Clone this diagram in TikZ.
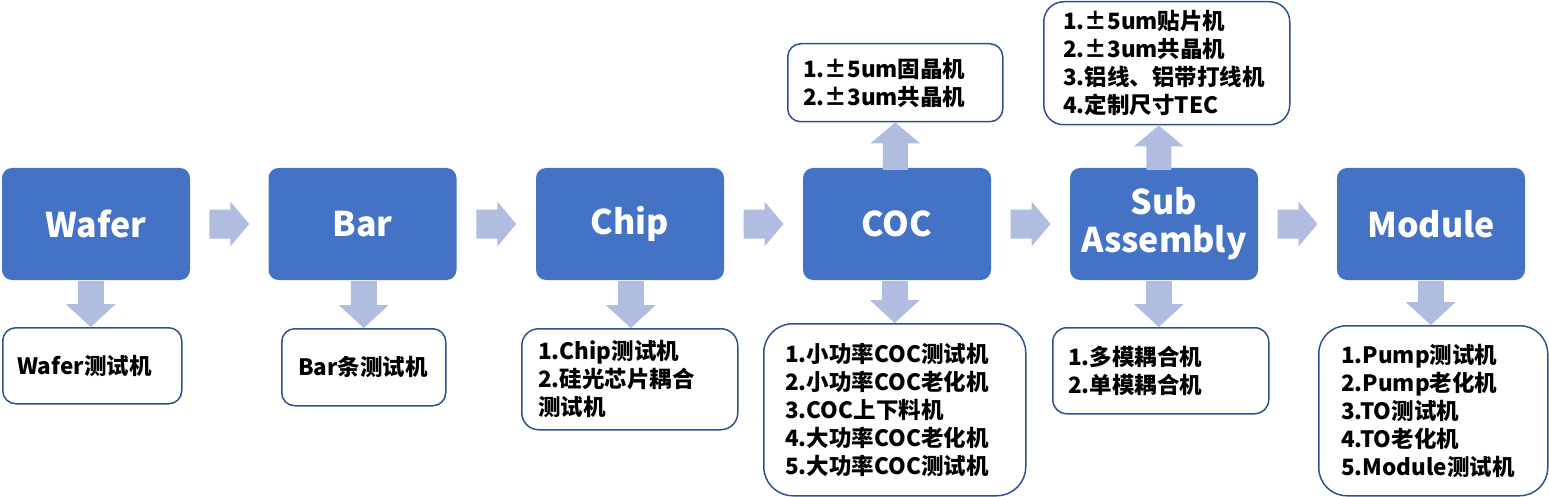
\documentclass[tikz,border=0pt]{standalone}
\usepackage{fontspec}
\setmainfont{Noto Sans CJK SC}
\usetikzlibrary{calc}
\definecolor{boxblue}{HTML}{4472C4}
\definecolor{arrfill}{HTML}{B0BCE0}
\definecolor{edgeblue}{HTML}{2F528F}
\tikzset{
  stage/.style={fill=boxblue, rounded corners=10pt, minimum width=188pt, minimum height=112pt,
    text=white, font=\fontsize{34}{38}\selectfont\bfseries, align=center, inner sep=0pt},
  info/.style={draw=edgeblue, line width=1.5pt, fill=white, anchor=north west, inner sep=0pt},
  infotext/.style={anchor=west, align=left, inner sep=0pt, font=\fontsize{22.5}{28}\selectfont\bfseries},
  arr/.style={fill=arrfill},
}
\newcommand\harr[2]{\fill[arr] let \p1=(#1.east),\p2=(#2.west) in
  (\x1/2+\x2/2-20pt,\y1+14.5pt) -- (\x1/2+\x2/2+1pt,\y1+14.5pt) -- (\x1/2+\x2/2+1pt,\y1+22.5pt) --
  (\x1/2+\x2/2+20pt,\y1) -- (\x1/2+\x2/2+1pt,\y1-22.5pt) -- (\x1/2+\x2/2+1pt,\y1-14.5pt) --
  (\x1/2+\x2/2-20pt,\y1-14.5pt) -- cycle;}
\newcommand\varr[3]{\fill[arr] let \p1=(#1.south),\p2=(#2.north) in
  (\x2+#3-13pt,\y1-1pt) -- (\x2+#3-13pt,\y2+23pt) -- (\x2+#3-25pt,\y2+23pt) -- (\x2+#3,\y2) --
  (\x2+#3+25pt,\y2+23pt) -- (\x2+#3+13pt,\y2+23pt) -- (\x2+#3+13pt,\y1-1pt) -- cycle;}
\newcommand\uarr[3]{\fill[arr] let \p1=(#1.north),\p2=(#2.south) in
  (\x2+#3-12.5pt,\y1-2pt) -- (\x2+#3-12.5pt,\y2-21pt) -- (\x2+#3-25pt,\y2-21pt) -- (\x2+#3,\y2) --
  (\x2+#3+25pt,\y2-21pt) -- (\x2+#3+12.5pt,\y2-21pt) -- (\x2+#3+12.5pt,\y1-2pt) -- cycle;}
\begin{document}
\begin{tikzpicture}[x=1pt,y=-1pt]
\useasboundingbox (0,0) rectangle (1549,497);
% stages
\node[stage] (wafer) at (96,224) {Wafer};
\node[stage] (bar) at (362.5,224) {Bar};
\node[stage] (chip) at (630,224) {Chip};
\node[stage] (coc) at (897,224) {COC};
\node[stage] (sub) at (1164,224) {Sub\\Assembly};
\node[stage] (module) at (1431,224) {Module};
% info boxes
\node[info, minimum width=179pt, minimum height=76pt, rounded corners=13pt] (waferD) at (2,327) {};
\node[info, minimum width=164pt, minimum height=77pt, rounded corners=13pt] (barD) at (281,328) {};
\node[info, minimum width=216pt, minimum height=101pt, rounded corners=17pt] (chipD) at (521,328) {};
\node[info, minimum width=215pt, minimum height=78pt, rounded corners=13pt] (cocT) at (787,43) {};
\node[info, minimum width=262pt, minimum height=172pt, rounded corners=29pt] (cocD) at (763,323) {};
\node[info, minimum width=246pt, minimum height=123pt, rounded corners=20pt] (subT) at (1043,1) {};
\node[info, minimum width=216pt, minimum height=86pt, rounded corners=14pt] (subD) at (1052,327) {};
\node[info, minimum width=229pt, minimum height=170pt, rounded corners=28pt] (moduleD) at (1318,325) {};
% texts
\node[infotext] (waferDt) at ($(waferD.west)+(15,0)$) {Wafer测试机};
\node[infotext] (barDt) at ($(barD.west)+(17,0)$) {Bar条测试机};
\node[infotext] (chipDt) at ($(chipD.west)+(17,0)$) {1.Chip测试机\\2.硅光芯片耦合\\测试机};
\node[infotext] (cocTt) at ($(cocT.west)+(16,0)$) {1.±5um固晶机\\2.±3um共晶机};
\node[infotext] (cocDt) at ($(cocD.west)+(22,0)$) {1.小功率COC测试机\\2.小功率COC老化机\\3.COC上下料机\\4.大功率COC老化机\\5.大功率COC测试机};
\node[infotext] (subTt) at ($(subT.west)+(20,0)$) {1.±5um贴片机\\2.±3um共晶机\\3.铝线、铝带打线机\\4.定制尺寸TEC};
\node[infotext] (subDt) at ($(subD.west)+(16,0)$) {1.多模耦合机\\2.单模耦合机};
\node[infotext] (moduleDt) at ($(moduleD.west)+(23,0)$) {1.Pump测试机\\2.Pump老化机\\3.TO测试机\\4.TO老化机\\5.Module测试机};
% arrows
\harr{wafer}{bar}
\harr{bar}{chip}
\harr{chip}{coc}
\harr{coc}{sub}
\harr{sub}{module}
\varr{wafer}{waferD}{-1.5pt}
\varr{bar}{barD}{0pt}
\varr{chip}{chipD}{1pt}
\varr{coc}{cocD}{0pt}
\varr{sub}{subD}{-2pt}
\varr{module}{moduleD}{-2.5pt}
\uarr{coc}{cocT}{0pt}
\uarr{sub}{subT}{-8pt}
\end{tikzpicture}
\end{document}
